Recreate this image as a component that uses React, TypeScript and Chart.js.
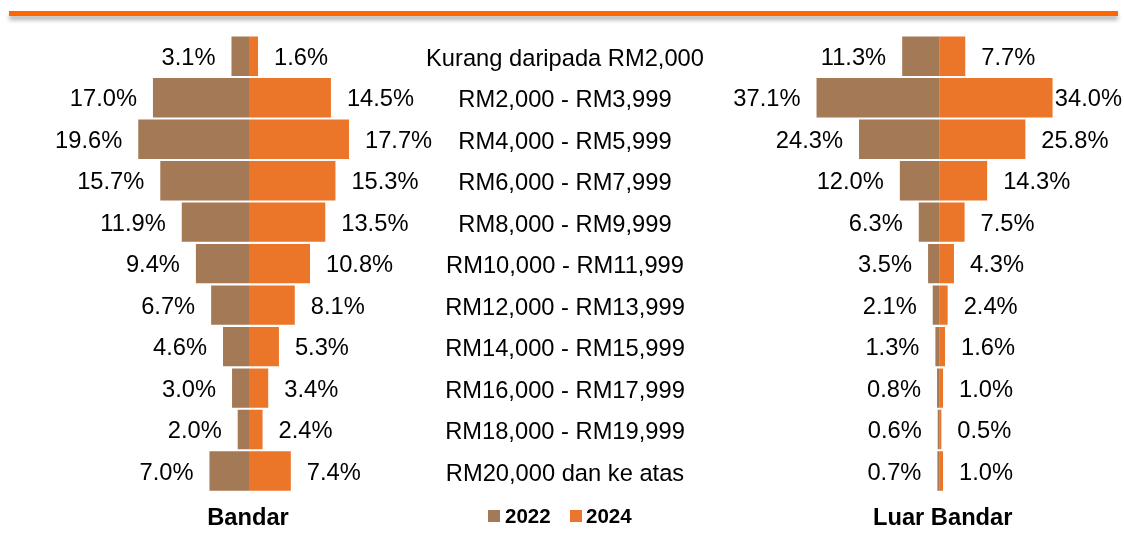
import React, { useEffect, useRef } from "react";
import { Chart, registerables } from "chart.js";

Chart.register(...registerables);

const categories = [
  "Kurang daripada RM2,000",
  "RM2,000 - RM3,999",
  "RM4,000 - RM5,999",
  "RM6,000 - RM7,999",
  "RM8,000 - RM9,999",
  "RM10,000 - RM11,999",
  "RM12,000 - RM13,999",
  "RM14,000 - RM15,999",
  "RM16,000 - RM17,999",
  "RM18,000 - RM19,999",
  "RM20,000 dan ke atas",
];
const bandar2022 = [3.1, 17.0, 19.6, 15.7, 11.9, 9.4, 6.7, 4.6, 3.0, 2.0, 7.0];
const bandar2024 = [1.6, 14.5, 17.7, 15.3, 13.5, 10.8, 8.1, 5.3, 3.4, 2.4, 7.4];
const luar2022 = [11.3, 37.1, 24.3, 12.0, 6.3, 3.5, 2.1, 1.3, 0.8, 0.6, 0.7];
const luar2024 = [7.7, 34.0, 25.8, 14.3, 7.5, 4.3, 2.4, 1.6, 1.0, 0.5, 1.0];
const seriesNames = ["2022", "2024"];
const panelTitles = ["Bandar", "Luar Bandar"];

const BROWN = "#A47955";
const ORANGE = "#EB7629";
const FONT = "'Liberation Sans', Arial, sans-serif";

const W = 1124;
const H = 538;

const leftPxPerUnit = 5.65;
const leftZeroPx = 249;
const rightPxPerUnit = 3.32;
const rightZeroPx = 939.7;

const labelPlugin = {
  id: "pyramidLabels",
  afterDatasetsDraw(chart: any) {
    const ctx = chart.ctx;
    const yScale = chart.scales.y;
    ctx.save();
    ctx.fillStyle = "#000";
    ctx.font = `23.7px ${FONT}`;
    ctx.textBaseline = "middle";
    chart.data.datasets.forEach((ds: any, di: number) => {
      const meta = chart.getDatasetMeta(di);
      meta.data.forEach((bar: any, i: number) => {
        const v = ds.data[i];
        const txt = Math.abs(v).toFixed(1) + "%";
        const w = ctx.measureText(txt).width;
        const y = bar.y + 2;
        if (v < 0) {
          ctx.textAlign = "right";
          ctx.fillText(txt, bar.x - 16, y);
        } else {
          ctx.textAlign = "left";
          let x = bar.x + 16;
          if (x + w > W - 2) x = W - 2 - w;
          ctx.fillText(txt, x, y);
        }
      });
    });
    ctx.textAlign = "center";
    categories.forEach((c, i) => {
      ctx.fillText(c, 565, yScale.getPixelForValue(i) + 3);
    });
    ctx.font = `bold 23.7px ${FONT}`;
    ctx.fillText(panelTitles[0], chart.scales.xL.getPixelForValue(0) - 1, 518);
    ctx.fillText(panelTitles[1], chart.scales.xR.getPixelForValue(0) + 3, 518);
    ctx.font = `bold 20.5px ${FONT}`;
    ctx.textAlign = "left";
    ctx.fillStyle = BROWN;
    ctx.fillRect(488, 510, 12, 12);
    ctx.fillStyle = "#000";
    ctx.fillText(seriesNames[0], 505, 517);
    ctx.fillStyle = ORANGE;
    ctx.fillRect(570, 510, 12, 12);
    ctx.fillStyle = "#000";
    ctx.fillText(seriesNames[1], 586, 517);
    ctx.restore();
  },
};

export default function App() {
  const ref = useRef<HTMLCanvasElement>(null);
  useEffect(() => {
    if (!ref.current) return;
    const barOpts = {
      grouped: false,
      barPercentage: 0.95,
      categoryPercentage: 1,
      borderWidth: 0,
    };
    const chart = new Chart(ref.current, {
      type: "bar",
      data: {
        labels: categories,
        datasets: [
          { label: "Bandar 2022", data: bandar2022.map((v) => -v), backgroundColor: BROWN, xAxisID: "xL", ...barOpts },
          { label: "Bandar 2024", data: bandar2024, backgroundColor: ORANGE, xAxisID: "xL", ...barOpts },
          { label: "Luar Bandar 2022", data: luar2022.map((v) => -v), backgroundColor: BROWN, xAxisID: "xR", ...barOpts },
          { label: "Luar Bandar 2024", data: luar2024, backgroundColor: ORANGE, xAxisID: "xR", ...barOpts },
        ],
      },
      options: {
        indexAxis: "y",
        animation: false,
        responsive: false,
        devicePixelRatio: 1,
        layout: { padding: { top: 35.5, bottom: 46.2, left: 0, right: 0 } },
        plugins: { legend: { display: false }, tooltip: { enabled: false } },
        scales: {
          y: { type: "category", display: false, offset: true },
          xL: {
            type: "linear",
            axis: "x",
            position: "bottom",
            display: false,
            min: -leftZeroPx / leftPxPerUnit,
            max: (W - leftZeroPx) / leftPxPerUnit,
          },
          xR: {
            type: "linear",
            axis: "x",
            position: "bottom",
            display: false,
            min: -rightZeroPx / rightPxPerUnit,
            max: (W - rightZeroPx) / rightPxPerUnit,
          },
        },
      } as any,
      plugins: [labelPlugin],
    });
    return () => chart.destroy();
  }, []);
  return (
    <div style={{ position: "absolute", left: 0, top: 0, width: W, height: H, background: "#fff", overflow: "hidden" }}>
      <div
        style={{
          position: "absolute",
          left: 9,
          top: 11,
          width: 1109,
          height: 5,
          background: "#FF6600",
          boxShadow: "0 4px 4px rgba(0,0,0,0.3)",
        }}
      />
      <canvas ref={ref} width={W} height={H} style={{ position: "absolute", left: 0, top: 0, width: W, height: H }} />
    </div>
  );
}
